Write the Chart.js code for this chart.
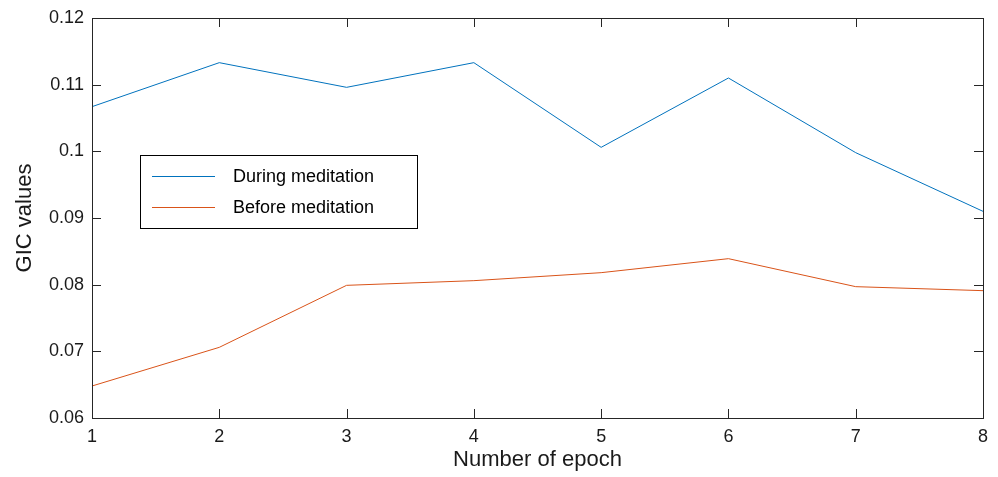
<!DOCTYPE html>
<html>
<head>
<meta charset="utf-8">
<script src="https://cdn.jsdelivr.net/npm/chart.js@4/dist/chart.umd.min.js"></script>
<style>
  html, body { margin: 0; padding: 0; background: #fff; }
  #wrap { width: 998px; height: 477px; }
</style>
</head>
<body>
<div id="wrap"><canvas id="gicChart" width="998" height="477"></canvas></div>
<script>
// Data
const epochs = [1, 2, 3, 4, 5, 6, 7, 8];
const duringMeditation = [0.1067, 0.1133, 0.1096, 0.1133, 0.1006, 0.1110, 0.0998, 0.0910];
const beforeMeditation = [0.0648, 0.0706, 0.0799, 0.0806, 0.0818, 0.0839, 0.0797, 0.0791];
const yTicks = [0.06, 0.07, 0.08, 0.09, 0.1, 0.11, 0.12];
const xTicks = [1, 2, 3, 4, 5, 6, 7, 8];

const FONT = '"Liberation Sans", Arial, Helvetica, sans-serif';

/**
 * MATLAB-like frame: box around the axes with inward ticks on all sides,
 * plus a boxed legend inside the plot
 */
const matlabFrame = {
    id: 'matlabFrame',
    afterDatasetsDraw(chart) {
        const ctx = chart.ctx;
        const a = chart.chartArea;
        const xs = chart.scales.x;
        const ys = chart.scales.y;
        const len = 9;

        ctx.save();
        ctx.strokeStyle = '#262626';
        ctx.lineWidth = 1;

        // ticks
        ctx.beginPath();
        xTicks.forEach(v => {
            const px = Math.round(xs.getPixelForValue(v)) + 0.5;
            ctx.moveTo(px, a.bottom);
            ctx.lineTo(px, a.bottom - len);
            ctx.moveTo(px, a.top);
            ctx.lineTo(px, a.top + len);
        });
        yTicks.forEach(v => {
            const py = Math.round(ys.getPixelForValue(v)) + 0.5;
            ctx.moveTo(a.left, py);
            ctx.lineTo(a.left + len, py);
            ctx.moveTo(a.right, py);
            ctx.lineTo(a.right - len, py);
        });
        ctx.stroke();

        // box
        ctx.strokeRect(Math.round(a.left) + 0.5, Math.round(a.top) + 0.5,
            Math.round(a.right - a.left), Math.round(a.bottom - a.top));

        // legend
        const bx = 140.5, by = 155.5, bw = 277, bh = 73;
        ctx.fillStyle = '#fff';
        ctx.fillRect(bx, by, bw, bh);
        ctx.strokeStyle = '#000';
        ctx.strokeRect(bx, by, bw, bh);
        ctx.font = '18px ' + FONT;
        ctx.textBaseline = 'middle';
        chart.data.datasets.forEach((ds, i) => {
            const y = 176.5 + i * 31;
            ctx.strokeStyle = ds.borderColor;
            ctx.beginPath();
            ctx.moveTo(152, y);
            ctx.lineTo(215, y);
            ctx.stroke();
            ctx.fillStyle = '#000';
            ctx.fillText(ds.label, 233, y + 1);
        });
        ctx.restore();
    }
};

new Chart(document.getElementById('gicChart'), {
    type: 'line',
    data: {
        datasets: [{
            label: 'During meditation',
            data: epochs.map((e, i) => ({ x: e, y: duringMeditation[i] })),
            borderColor: '#0072BD',
            borderWidth: 1,
            pointRadius: 0,
            tension: 0
        }, {
            label: 'Before meditation',
            data: epochs.map((e, i) => ({ x: e, y: beforeMeditation[i] })),
            borderColor: '#D95319',
            borderWidth: 1,
            pointRadius: 0,
            tension: 0
        }]
    },
    options: {
        responsive: false,
        animation: false,
        devicePixelRatio: 1,
        layout: { padding: { top: 18, right: 15, left: 0, bottom: 0 } },
        plugins: {
            legend: { display: false },
            tooltip: { enabled: false }
        },
        scales: {
            x: {
                type: 'linear',
                min: 1,
                max: 8,
                grid: { display: false },
                border: { display: false },
                afterBuildTicks: s => { s.ticks = xTicks.map(v => ({ value: v })); },
                afterFit: s => { s.height = 59; },
                ticks: {
                    color: '#1a1a1a',
                    padding: 0,
                    font: { family: FONT, size: 18 },
                    callback: v => String(v)
                },
                title: {
                    display: true,
                    text: 'Number of epoch',
                    color: '#1a1a1a',
                    padding: { top: 0, bottom: 4 },
                    font: { family: FONT, size: 22 }
                }
            },
            y: {
                min: 0.06,
                max: 0.12,
                grid: { display: false },
                border: { display: false },
                afterBuildTicks: s => { s.ticks = yTicks.map(v => ({ value: v })); },
                afterFit: s => { s.width = 92; },
                ticks: {
                    color: '#1a1a1a',
                    padding: 0,
                    font: { family: FONT, size: 18 },
                    callback: v => String(Number(v.toFixed(2)))
                },
                title: {
                    display: true,
                    text: 'GIC values',
                    color: '#1a1a1a',
                    padding: { top: 12, bottom: 0 },
                    font: { family: FONT, size: 22 }
                }
            }
        }
    },
    plugins: [matlabFrame]
});
</script>
</body>
</html>
